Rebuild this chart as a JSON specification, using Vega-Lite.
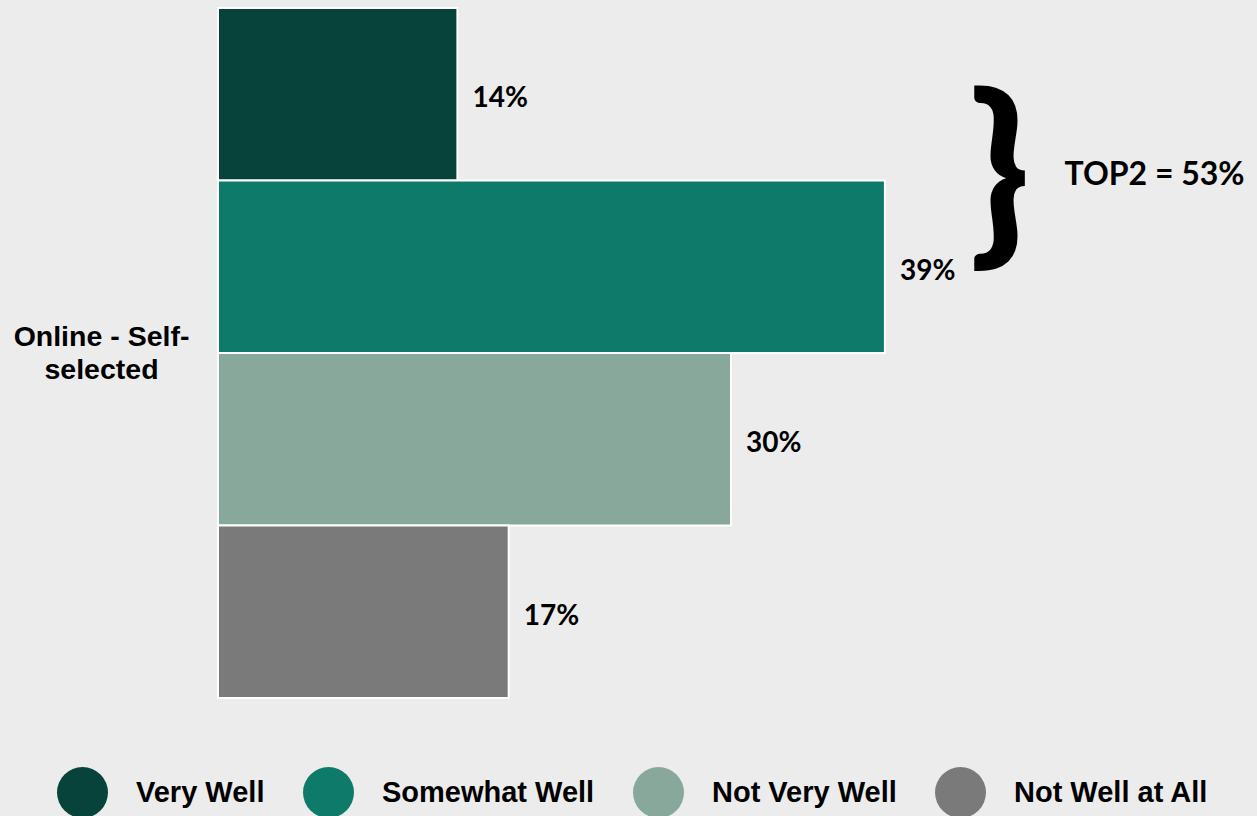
{
  "$schema": "https://vega.github.io/schema/vega-lite/v6.json",
  "width": 1026,
  "height": 690,
  "autosize": {"type": "none"},
  "padding": {"left": 218, "top": 8, "right": 13, "bottom": 118},
  "background": "#ececec",
  "config": {"view": {"stroke": null}},
  "data": {
    "values": [
      {"group": "Online - Self-selected", "response": "Very Well", "pct": 14, "label": "14%"},
      {"group": "Online - Self-selected", "response": "Somewhat Well", "pct": 39, "label": "39%"},
      {"group": "Online - Self-selected", "response": "Not Very Well", "pct": 30, "label": "30%"},
      {"group": "Online - Self-selected", "response": "Not Well at All", "pct": 17, "label": "17%"}
    ]
  },
  "layer": [
    {
      "mark": {"type": "bar", "stroke": "white", "strokeWidth": 2},
      "encoding": {
        "y": {
          "field": "group", "type": "nominal", "title": null,
          "scale": {"paddingInner": 0, "paddingOuter": 0},
          "axis": {
            "domain": false, "ticks": false, "grid": false,
            "labelExpr": "datum.label == 'Online - Self-selected' ? ['Online - Self-', 'selected'] : datum.label",
            "labelFont": "Arial, Liberation Sans, sans-serif", "labelFontWeight": "bold", "labelFontSize": 28.5,
            "labelColor": "#000000", "labelAlign": "center", "labelBaseline": "middle",
            "labelPadding": 117, "labelLineHeight": 33, "labelLimit": 400, "labelOffset": -16
          }
        },
        "yOffset": {
          "field": "response", "type": "nominal",
          "scale": {"domain": ["Very Well", "Somewhat Well", "Not Very Well", "Not Well at All"], "paddingInner": 0, "paddingOuter": 0}
        },
        "x": {
          "field": "pct", "type": "quantitative",
          "scale": {"domain": [0, 60], "nice": false},
          "axis": null
        },
        "color": {
          "field": "response", "type": "nominal",
          "scale": {
            "domain": ["Very Well", "Somewhat Well", "Not Very Well", "Not Well at All"],
            "range": ["#08433b", "#0d7a6a", "#88a89b", "#7a7a7a"]
          },
          "legend": {
            "title": null, "orient": "none", "direction": "horizontal",
            "legendX": -161, "legendY": 759, "padding": 0,
            "symbolType": "circle", "symbolSize": 2600, "symbolStrokeWidth": 0, "symbolOpacity": 1,
            "labelFont": "Arial, Liberation Sans, sans-serif", "labelFontWeight": "bold", "labelFontSize": 29,
            "labelColor": "#000000", "labelOffset": 28, "columnPadding": 38, "labelLimit": 400
          }
        }
      }
    },
    {
      "mark": {"type": "text", "align": "left", "baseline": "middle", "dx": 15, "dy": 5,
               "font": "Lato", "fontWeight": "bold", "fontSize": 28, "color": "#000000"},
      "encoding": {
        "y": {"field": "group", "type": "nominal"},
        "yOffset": {"field": "response", "type": "nominal"},
        "x": {"field": "pct", "type": "quantitative"},
        "text": {"field": "label"}
      }
    },
    {
      "data": {"values": [{"group": "Online - Self-selected", "response": "Very Well", "xpos": 45.7, "label": "}"}]},
      "mark": {"type": "text", "align": "center", "baseline": "middle", "dy": 87,
               "font": "Lato", "fontWeight": 900, "fontSize": 198, "color": "#000000"},
      "encoding": {
        "y": {"field": "group", "type": "nominal"},
        "yOffset": {"field": "response", "type": "nominal"},
        "x": {"field": "xpos", "type": "quantitative"},
        "text": {"field": "label"}
      }
    },
    {
      "data": {"values": [{"group": "Online - Self-selected", "response": "Very Well", "xpos": 49.5, "label": "TOP2 = 53%"}]},
      "mark": {"type": "text", "align": "left", "baseline": "middle", "dy": 81,
               "font": "Lato", "fontWeight": "bold", "fontSize": 32, "color": "#000000"},
      "encoding": {
        "y": {"field": "group", "type": "nominal"},
        "yOffset": {"field": "response", "type": "nominal"},
        "x": {"field": "xpos", "type": "quantitative"},
        "text": {"field": "label"}
      }
    }
  ]
}
